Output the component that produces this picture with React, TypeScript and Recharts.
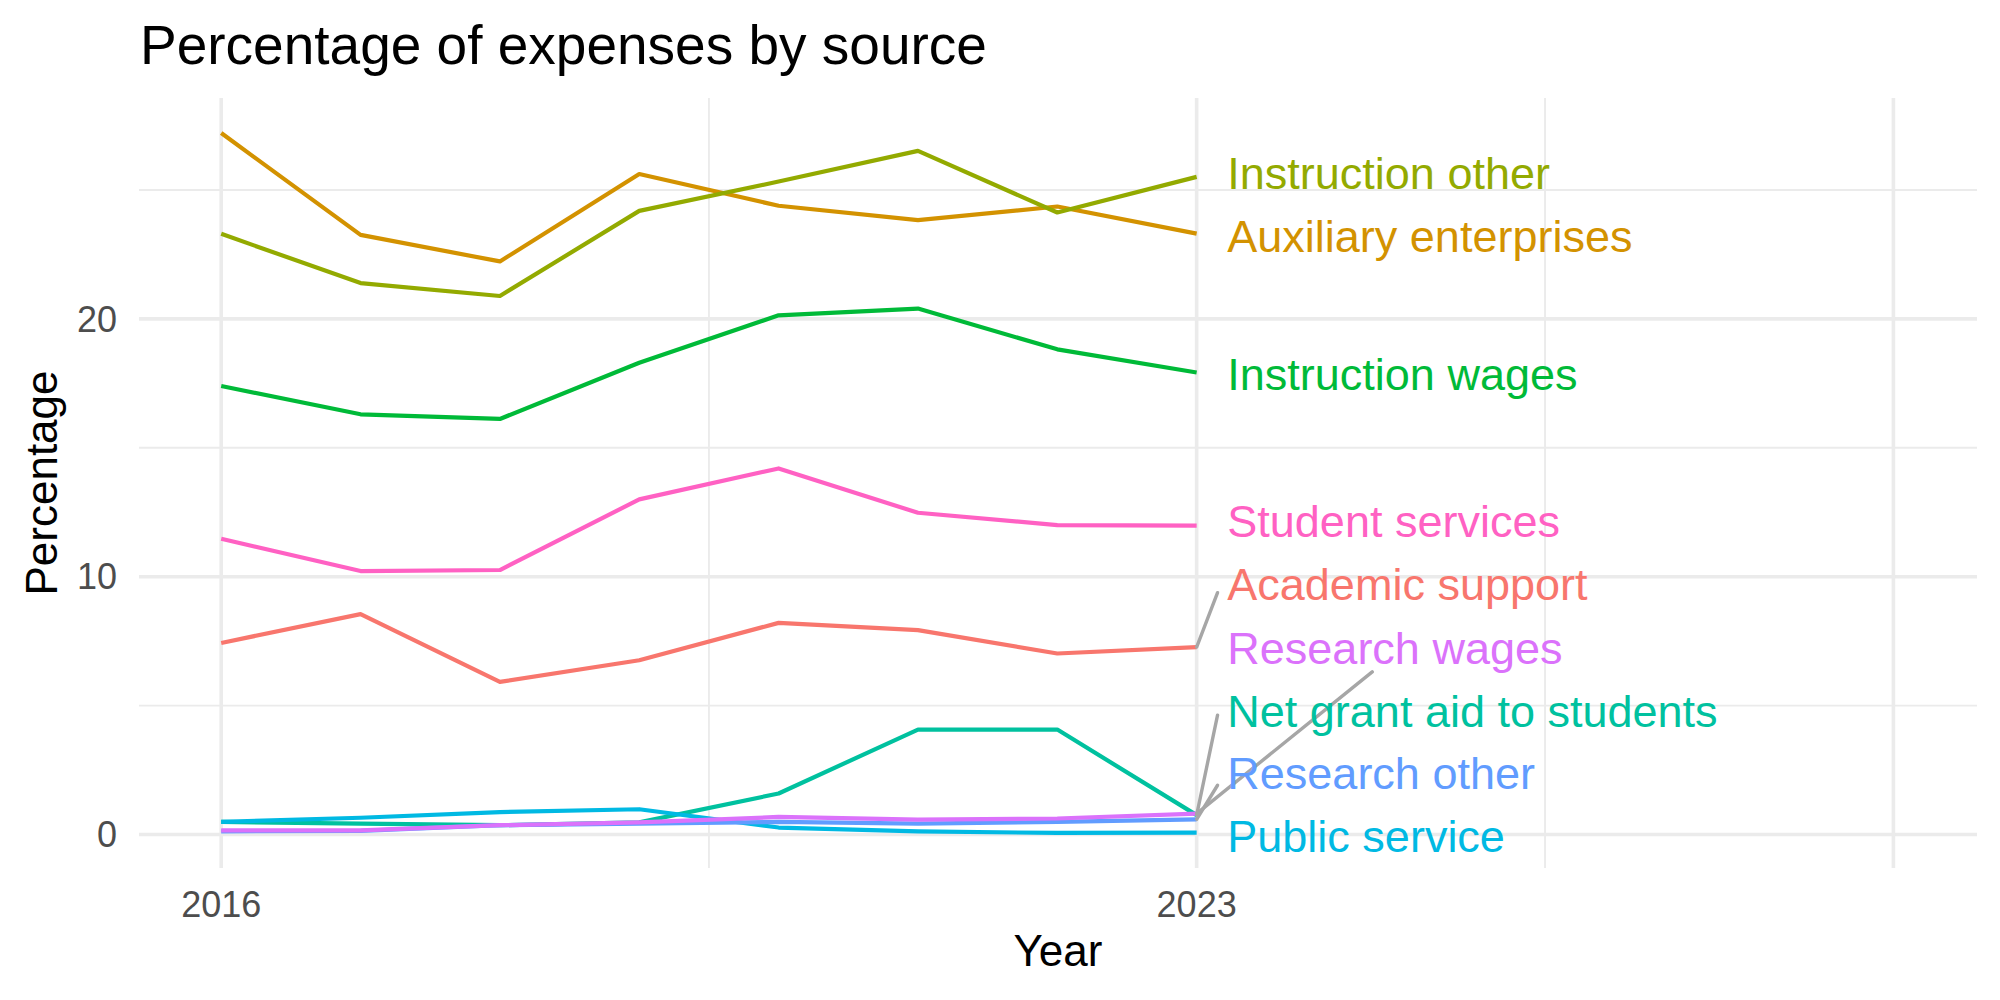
import { CartesianGrid, Line, LineChart, ReferenceDot, ReferenceLine, XAxis, YAxis } from "recharts";

// Share of expenses by source, 2016-2023.

document.body.style.margin = "0";

const FONT = '"Liberation Sans", Arial, Helvetica, sans-serif';

const years = [2016, 2017, 2018, 2019, 2020, 2021, 2022, 2023];

const academicSupport = [7.43, 8.55, 5.92, 6.76, 8.21, 7.93, 7.02, 7.27];
const auxiliaryEnterprises = [27.21, 23.26, 22.23, 25.62, 24.39, 23.83, 24.36, 23.31];
const instructionOther = [23.3, 21.39, 20.89, 24.19, 25.33, 26.52, 24.13, 25.51];
const instructionWages = [17.4, 16.3, 16.12, 18.3, 20.14, 20.4, 18.82, 17.92];
const netGrantAid = [0.49, 0.42, 0.36, 0.47, 1.59, 4.07, 4.07, 0.75];
const publicService = [0.49, 0.65, 0.87, 0.98, 0.27, 0.12, 0.06, 0.07];
const researchOther = [0.12, 0.14, 0.36, 0.42, 0.49, 0.42, 0.49, 0.59];
const researchWages = [0.16, 0.16, 0.36, 0.47, 0.68, 0.58, 0.62, 0.81];
const studentServices = [11.47, 10.22, 10.26, 13.0, 14.2, 12.48, 12.0, 11.98];

const yTicks = [0, 10, 20];
const yMinor = [5, 15, 25];
const xTicks = [2016, 2023];
const xMajor = [2016, 2023, 2028];
const xMinor = [2019.5, 2025.5];

// repelled label placement (data units) and where the leader segment ends
const labelYear = 2023.22;

const series = [
  { key: "academic", name: "Academic support", color: "#F8766D", values: academicSupport, labelAt: 9.69, leader: { x: 2023.15, y: 9.38 } },
  { key: "auxiliary", name: "Auxiliary enterprises", color: "#D39200", values: auxiliaryEnterprises, labelAt: 23.21 },
  { key: "instrOther", name: "Instruction other", color: "#93AA00", values: instructionOther, labelAt: 25.64 },
  { key: "instrWages", name: "Instruction wages", color: "#00BA38", values: instructionWages, labelAt: 17.86 },
  { key: "netGrant", name: "Net grant aid to students", color: "#00C19F", values: netGrantAid, labelAt: 4.79, leader: { x: 2023.15, y: 4.63 } },
  { key: "publicSvc", name: "Public service", color: "#00B9E3", values: publicService, labelAt: -0.08 },
  { key: "resOther", name: "Research other", color: "#619CFF", values: researchOther, labelAt: 2.36, leader: { x: 2023.15, y: 1.91 } },
  { key: "resWages", name: "Research wages", color: "#DB72FB", values: researchWages, labelAt: 7.21, leader: { x: 2024.26, y: 6.31 } },
  { key: "student", name: "Student services", color: "#FF61C3", values: studentServices, labelAt: 12.15 },
];

const rows = years.map((year, i) => {
  const row: Record<string, number> = { year };
  series.forEach((s) => {
    row[s.key] = s.values[i];
  });
  return row;
});

const last = years.length - 1;

export default function App() {
  return (
    <div style={{ position: "relative", width: 2000, height: 1000, background: "#fff", fontFamily: FONT }}>
      <LineChart width={2000} height={1000} data={rows} margin={{ top: 98, right: 23, bottom: 0, left: 0 }}>
        <CartesianGrid stroke="#EBEBEB" strokeWidth={1.9} horizontalValues={yMinor} verticalValues={xMinor} />
        <CartesianGrid stroke="#EBEBEB" strokeWidth={3.6} horizontalValues={yTicks} verticalValues={xMajor} />
        <XAxis
          dataKey="year"
          type="number"
          domain={[2015.41, 2028.6]}
          allowDataOverflow
          ticks={xTicks}
          axisLine={false}
          tickLine={false}
          tickSize={0}
          tickMargin={23}
          height={132}
          tick={{ fill: "#4D4D4D", fontSize: 36, fontFamily: FONT }}
        />
        <YAxis
          type="number"
          domain={[-1.3, 28.57]}
          allowDataOverflow
          ticks={yTicks}
          axisLine={false}
          tickLine={false}
          tickSize={0}
          tickMargin={22}
          width={139}
          tick={{ fill: "#4D4D4D", fontSize: 36, fontFamily: FONT }}
        />
        {series.map((s) => (
          <Line
            key={s.key}
            type="linear"
            dataKey={s.key}
            stroke={s.color}
            strokeWidth={4.2}
            strokeLinejoin="round"
            dot={false}
            isAnimationActive={false}
          />
        ))}
        {series
          .filter((s) => s.leader)
          .map((s) => (
            <ReferenceLine
              key={`seg-${s.key}`}
              segment={[
                { x: years[last], y: s.values[last] },
                { x: s.leader!.x, y: s.leader!.y },
              ]}
              stroke="#A6A6A6"
              strokeWidth={3.4}
              strokeLinecap="round"
              ifOverflow="visible"
            />
          ))}
        {series.map((s) => (
          <ReferenceDot
            key={`lab-${s.key}`}
            x={labelYear}
            y={s.labelAt}
            r={0}
            ifOverflow="visible"
            shape={(p: any) => (
              <text
                x={p.cx}
                y={p.cy}
                fill={s.color}
                fontSize={45}
                fontFamily={FONT}
                dominantBaseline="central"
              >
                {s.name}
              </text>
            )}
          />
        ))}
      </LineChart>
      <svg width={2000} height={1000} style={{ position: "absolute", left: 0, top: 0, pointerEvents: "none" }}>
        <text x={140} y={64} fontSize={55} fontFamily={FONT} fill="#000">
          Percentage of expenses by source
        </text>
        <text x={1058} y={966} fontSize={44} fontFamily={FONT} fill="#000" textAnchor="middle">
          Year
        </text>
        <text transform="translate(57 483) rotate(-90)" fontSize={44} fontFamily={FONT} fill="#000" textAnchor="middle">
          Percentage
        </text>
      </svg>
    </div>
  );
}
